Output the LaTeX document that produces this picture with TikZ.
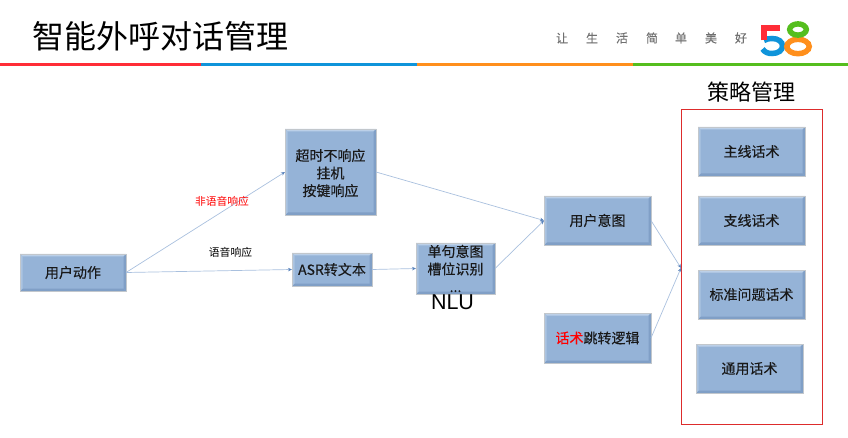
\documentclass[tikz,border=0pt]{standalone}
\usepackage{fontspec}
\setmainfont{Noto Sans CJK SC}
\newfontfamily\latinsans{Liberation Sans}
\newfontfamily\boxfont[FakeBold=0.25]{Noto Sans CJK SC}
\usetikzlibrary{arrows.meta}
\definecolor{boxfill}{HTML}{95B3D7}
\definecolor{boxlight}{HTML}{BCD0E8}
\definecolor{boxdark}{HTML}{809FC6}
\definecolor{boxedge}{HTML}{C2C7CC}
\definecolor{linkc}{HTML}{A9C0DE}
\definecolor{tipc}{HTML}{5B84BC}
\definecolor{barred}{HTML}{FF2D37}
\definecolor{barblue}{HTML}{0F94DA}
\definecolor{barorange}{HTML}{FF8F1C}
\definecolor{bargreen}{HTML}{55BE1E}
\definecolor{sloganc}{HTML}{707070}
\definecolor{frame}{HTML}{DD2C2C}
\tikzset{
  stagebox/.style={draw=boxedge,line width=0.9pt,fill=boxfill,inner sep=0pt,outer sep=0pt,
    align=center,text=black!90,font=\boxfont\fontsize{14}{17.6}\selectfont,
    path picture={
      \fill[boxlight] (path picture bounding box.north west)--(path picture bounding box.north east)
        --([xshift=-2.5pt,yshift=-2.5pt]path picture bounding box.north east)--([xshift=2.5pt,yshift=-2.5pt]path picture bounding box.north west)--cycle;
      \fill[boxdark] (path picture bounding box.south west)--(path picture bounding box.south east)
        --([xshift=-2.5pt,yshift=2.5pt]path picture bounding box.south east)--([xshift=2.5pt,yshift=2.5pt]path picture bounding box.south west)--cycle;
      \fill[boxdark] (path picture bounding box.north east)--(path picture bounding box.south east)
        --([xshift=-2.5pt,yshift=2.5pt]path picture bounding box.south east)--([xshift=-2.5pt,yshift=-2.5pt]path picture bounding box.north east)--cycle;
      \fill[boxlight!60!boxfill] (path picture bounding box.north west)--(path picture bounding box.south west)
        --([xshift=2.5pt,yshift=2.5pt]path picture bounding box.south west)--([xshift=2.5pt,yshift=-2.5pt]path picture bounding box.north west)--cycle;
    }},
  link/.style={draw=linkc,line width=0.7pt,-{Stealth[length=4pt,width=3.5pt,color=tipc]}},
  bar/.style={line width=3.4pt},
  lab/.style={inner sep=0pt,font=\fontsize{10.8}{13}\selectfont},
}
\begin{document}
\begin{tikzpicture}[x=1pt,y=-1pt]
\useasboundingbox (0,0) rectangle (848,438);
% header
\node[inner sep=0pt,font=\fontsize{32}{36}\selectfont] (title) at (160,36) {智能外呼对话管理};
\draw[bar,barred] (0,64.5)--(201,64.5);
\draw[bar,barblue] (201,64.5)--(417,64.5);
\draw[bar,barorange] (417,64.5)--(633,64.5);
\draw[bar,bargreen] (633,64.5)--(848,64.5);
\foreach \c/\xx in {让/562,生/592,活/622,简/652,单/681,美/711,好/741}
  \node[inner sep=0pt,text=sloganc,font=\boxfont\fontsize{12}{14}\selectfont] at (\xx,38) {\c};
% logo
\draw[barblue,line width=5.5pt] (762.5,49) .. controls (765,52.5) and (768,53.5) .. (772,53.5) .. controls (778,53.5) and (782.5,50.5) .. (782.5,46) .. controls (782.5,41.5) and (778,38.5) .. (772,38.5) .. controls (769,38.5) and (766.5,39) .. (764,40.5);
\draw[barred,line width=5.5pt] (764,40.5)--(764,28)--(780,28);
\draw[barorange,line width=5.5pt] (798,46.5) ellipse[x radius=11.2,y radius=7.2];
\draw[bargreen,line width=5.5pt] (798,29.5) ellipse[x radius=8.3,y radius=5.6];
% boxes
\node[stagebox,minimum width=106pt,minimum height=37pt] (act) at (73,272.5) {\raisebox{-0.7pt}{用户动作}};
\node[stagebox,minimum width=91pt,minimum height=86pt] (noasr) at (330.5,172) {\raisebox{-6.5pt}[26.4pt][26.4pt]{\begin{tabular}{@{}c@{}}超时不响应\\挂机\\按键响应\end{tabular}}};
\node[stagebox,minimum width=80pt,minimum height=33pt] (asr) at (332,269.5) {\raisebox{-0.7pt}{ASR转文本}};
\node[stagebox,minimum width=79pt,minimum height=51pt] (nlu) at (455.5,268.5) {单句意图\\槽位识别\\...};
\node[stagebox,minimum width=107pt,minimum height=49pt] (intent) at (597.5,220.5) {\raisebox{-0.7pt}{用户意图}};
\node[stagebox,minimum width=107pt,minimum height=50pt] (jump) at (597.5,338) {\raisebox{-0.7pt}{\textcolor{red}{话术}跳转逻辑}};
\node[stagebox,minimum width=107pt,minimum height=49pt] (main) at (751.5,151.5) {\raisebox{-0.7pt}{主线话术}};
\node[stagebox,minimum width=107pt,minimum height=49pt] (branch) at (751.5,220.5) {\raisebox{-0.7pt}{支线话术}};
\node[stagebox,minimum width=107pt,minimum height=49pt] (std) at (751.5,294.5) {\raisebox{-0.7pt}{标准问题话术}};
\node[stagebox,minimum width=107pt,minimum height=49pt] (general) at (749.5,368.5) {\raisebox{-0.7pt}{通用话术}};
\node[inner sep=0pt,font=\latinsans\fontsize{21.5}{24}\selectfont] (nlulab) at (452.5,302.5) {NLU};
% strategy frame
\node[draw=frame,line width=1pt,inner sep=0pt,minimum width=141pt,minimum height=314pt] (frame) at (751.5,267) {};
\node[inner sep=0pt,font=\fontsize{22}{26}\selectfont] (strategy) at (751.5,92) {策略管理};
% connectors
\coordinate (merge) at (681,268);
\draw[link] (act.east)--(noasr.west);
\draw[link] (act.east)--(asr.west);
\draw[link] (noasr.east)--(intent.west);
\draw[link] (asr.east)--(nlu.west);
\draw[link] (nlu.east)--(intent.west);
\draw[link] (intent.east)--(merge);
\draw[link] (jump.east)--(merge);
% labels
\node[lab,text=red] (nonvoice) at (222,201) {非语音响应};
\node[lab,text=black] (voice) at (230.5,252) {语音响应};
\end{tikzpicture}
\end{document}
